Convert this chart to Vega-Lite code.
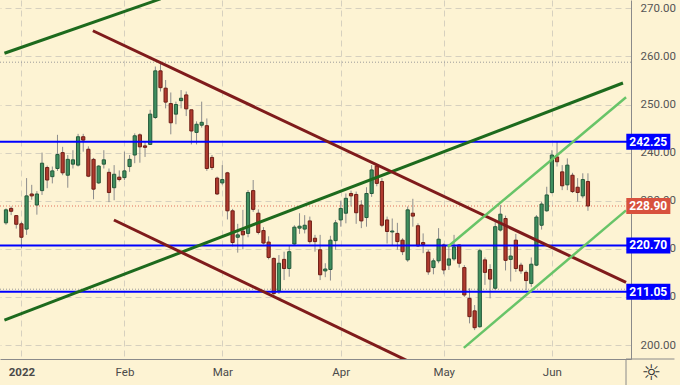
{
  "$schema": "https://vega.github.io/schema/vega-lite/v6.json",
  "width": 631,
  "height": 359,
  "autosize": "none",
  "padding": {"left": 0, "top": 0, "right": 49, "bottom": 26},
  "background": "#fdf3d3",
  "config": {"view": {"stroke": null}, "font": "Roboto"},
  "datasets": {
    "candles": [
      {"i":-3,"o":225.4,"h":228.4,"l":225.0,"c":228.1},
      {"i":-2,"o":228.4,"h":228.8,"l":227.0,"c":227.8},
      {"i":-1,"o":226.9,"h":227.0,"l":224.2,"c":225.1},
      {"i":0,"o":225.2,"h":225.6,"l":220.1,"c":222.4},
      {"i":1,"o":224.1,"h":234.7,"l":222.9,"c":231.0},
      {"i":2,"o":231.4,"h":233.3,"l":230.2,"c":231.0},
      {"i":3,"o":229.1,"h":232.0,"l":227.1,"c":231.4},
      {"i":4,"o":232.1,"h":240.0,"l":231.2,"c":237.8},
      {"i":5,"o":236.9,"h":237.3,"l":232.6,"c":234.3},
      {"i":6,"o":235.0,"h":237.1,"l":233.6,"c":236.2},
      {"i":7,"o":236.7,"h":243.7,"l":236.2,"c":239.6},
      {"i":8,"o":240.0,"h":241.2,"l":235.3,"c":235.8},
      {"i":9,"o":235.3,"h":239.5,"l":232.7,"c":238.6},
      {"i":10,"o":237.6,"h":240.5,"l":236.7,"c":238.5},
      {"i":11,"o":237.4,"h":243.9,"l":237.1,"c":243.3},
      {"i":12,"o":243.3,"h":243.9,"l":240.2,"c":242.6},
      {"i":13,"o":240.7,"h":241.3,"l":234.9,"c":235.1},
      {"i":14,"o":238.6,"h":238.9,"l":230.3,"c":232.4},
      {"i":15,"o":233.7,"h":237.4,"l":233.5,"c":237.2},
      {"i":16,"o":237.6,"h":240.5,"l":236.7,"c":238.5},
      {"i":17,"o":235.9,"h":236.7,"l":229.7,"c":231.7},
      {"i":18,"o":232.7,"h":237.4,"l":230.1,"c":235.5},
      {"i":19,"o":234.9,"h":236.3,"l":234.0,"c":234.4},
      {"i":20,"o":234.8,"h":240.2,"l":234.3,"c":236.2},
      {"i":21,"o":237.1,"h":239.5,"l":236.0,"c":238.6},
      {"i":22,"o":239.5,"h":244.0,"l":237.8,"c":243.5},
      {"i":23,"o":243.7,"h":244.0,"l":237.9,"c":241.2},
      {"i":24,"o":241.4,"h":242.3,"l":239.1,"c":241.1},
      {"i":25,"o":241.7,"h":248.9,"l":241.6,"c":248.0},
      {"i":26,"o":247.3,"h":257.9,"l":247.0,"c":257.0},
      {"i":27,"o":257.0,"h":258.6,"l":252.7,"c":253.5},
      {"i":28,"o":253.4,"h":255.1,"l":249.2,"c":250.5},
      {"i":29,"o":250.2,"h":252.5,"l":243.8,"c":246.2},
      {"i":30,"o":248.0,"h":250.6,"l":245.9,"c":250.0},
      {"i":31,"o":250.8,"h":253.0,"l":249.2,"c":251.3},
      {"i":32,"o":252.0,"h":252.7,"l":247.6,"c":249.1},
      {"i":33,"o":248.9,"h":248.9,"l":241.7,"c":244.5},
      {"i":34,"o":244.2,"h":246.5,"l":241.7,"c":245.9},
      {"i":35,"o":245.7,"h":250.6,"l":245.2,"c":246.3},
      {"i":36,"o":245.6,"h":247.1,"l":236.2,"c":236.7},
      {"i":37,"o":239.0,"h":239.5,"l":236.4,"c":236.9},
      {"i":38,"o":234.7,"h":235.0,"l":231.2,"c":231.4},
      {"i":39,"o":233.7,"h":237.4,"l":233.3,"c":234.4},
      {"i":40,"o":235.8,"h":236.0,"l":226.1,"c":227.9},
      {"i":41,"o":227.9,"h":228.3,"l":220.5,"c":221.3},
      {"i":42,"o":222.4,"h":225.2,"l":219.2,"c":222.9},
      {"i":43,"o":223.7,"h":228.1,"l":219.9,"c":222.9},
      {"i":44,"o":223.2,"h":232.2,"l":222.4,"c":231.7},
      {"i":45,"o":232.1,"h":234.3,"l":227.7,"c":228.2},
      {"i":46,"o":227.4,"h":228.2,"l":223.0,"c":223.4},
      {"i":47,"o":223.8,"h":224.5,"l":220.9,"c":221.2},
      {"i":48,"o":221.4,"h":222.6,"l":217.8,"c":218.2},
      {"i":49,"o":218.0,"h":218.2,"l":209.8,"c":210.7},
      {"i":50,"o":211.3,"h":218.7,"l":210.6,"c":217.0},
      {"i":51,"o":217.8,"h":219.4,"l":213.5,"c":215.9},
      {"i":52,"o":215.9,"h":220.6,"l":214.2,"c":219.4},
      {"i":53,"o":221.0,"h":224.9,"l":220.6,"c":224.5},
      {"i":54,"o":224.3,"h":227.4,"l":223.1,"c":224.7},
      {"i":55,"o":224.1,"h":227.0,"l":223.2,"c":224.9},
      {"i":56,"o":225.8,"h":226.7,"l":221.1,"c":221.5},
      {"i":57,"o":222.2,"h":222.9,"l":219.4,"c":221.5},
      {"i":58,"o":219.8,"h":222.9,"l":213.5,"c":214.6},
      {"i":59,"o":215.4,"h":217.0,"l":214.1,"c":215.8},
      {"i":60,"o":215.7,"h":222.7,"l":213.4,"c":221.8},
      {"i":61,"o":221.7,"h":226.0,"l":219.8,"c":225.4},
      {"i":62,"o":226.0,"h":230.0,"l":224.6,"c":228.4},
      {"i":63,"o":227.4,"h":231.5,"l":225.3,"c":230.5},
      {"i":64,"o":231.5,"h":232.1,"l":228.8,"c":231.0},
      {"i":65,"o":231.3,"h":231.9,"l":225.2,"c":227.5},
      {"i":66,"o":229.1,"h":230.1,"l":224.3,"c":225.8},
      {"i":67,"o":226.5,"h":232.8,"l":224.6,"c":231.5},
      {"i":68,"o":231.5,"h":237.4,"l":230.8,"c":236.4},
      {"i":69,"o":237.2,"h":237.5,"l":233.0,"c":233.6},
      {"i":70,"o":234.0,"h":234.7,"l":224.5,"c":224.9},
      {"i":71,"o":226.0,"h":226.7,"l":221.1,"c":223.6},
      {"i":72,"o":223.5,"h":226.3,"l":220.7,"c":223.7},
      {"i":73,"o":223.2,"h":225.4,"l":219.8,"c":221.5},
      {"i":74,"o":221.8,"h":222.2,"l":218.7,"c":219.4},
      {"i":75,"o":217.7,"h":228.8,"l":217.3,"c":228.1},
      {"i":76,"o":227.4,"h":230.4,"l":224.6,"c":226.8},
      {"i":77,"o":224.8,"h":225.3,"l":220.4,"c":220.6},
      {"i":78,"o":221.3,"h":223.2,"l":219.1,"c":220.9},
      {"i":79,"o":219.3,"h":219.8,"l":214.6,"c":215.2},
      {"i":80,"o":216.1,"h":218.0,"l":214.7,"c":217.5},
      {"i":81,"o":217.5,"h":224.3,"l":217.0,"c":222.0},
      {"i":82,"o":220.8,"h":221.1,"l":214.7,"c":215.6},
      {"i":83,"o":216.6,"h":220.4,"l":215.6,"c":217.9},
      {"i":84,"o":217.9,"h":222.9,"l":217.5,"c":220.4},
      {"i":85,"o":220.8,"h":220.9,"l":216.1,"c":217.0},
      {"i":86,"o":216.1,"h":216.6,"l":210.0,"c":210.4},
      {"i":87,"o":209.7,"h":211.8,"l":204.5,"c":205.9},
      {"i":88,"o":207.1,"h":208.3,"l":203.1,"c":203.6},
      {"i":89,"o":203.8,"h":220.0,"l":203.6,"c":219.6},
      {"i":90,"o":217.7,"h":218.2,"l":212.5,"c":215.1},
      {"i":91,"o":215.7,"h":216.8,"l":209.7,"c":213.7},
      {"i":92,"o":211.8,"h":226.0,"l":211.4,"c":224.6},
      {"i":93,"o":223.9,"h":229.1,"l":223.6,"c":227.2},
      {"i":94,"o":226.3,"h":226.9,"l":215.5,"c":217.6},
      {"i":95,"o":217.8,"h":220.4,"l":213.2,"c":218.5},
      {"i":96,"o":221.8,"h":223.1,"l":215.2,"c":215.9},
      {"i":97,"o":216.6,"h":217.1,"l":214.8,"c":215.4},
      {"i":98,"o":215.1,"h":215.5,"l":211.4,"c":213.4},
      {"i":99,"o":212.8,"h":218.2,"l":212.1,"c":216.8},
      {"i":100,"o":216.6,"h":227.0,"l":216.4,"c":226.6},
      {"i":101,"o":224.9,"h":229.8,"l":224.0,"c":229.3},
      {"i":102,"o":227.9,"h":232.9,"l":227.7,"c":231.2},
      {"i":103,"o":231.7,"h":240.5,"l":231.5,"c":239.5},
      {"i":104,"o":239.1,"h":242.3,"l":237.1,"c":238.1},
      {"i":105,"o":236.0,"h":237.4,"l":232.2,"c":233.1},
      {"i":106,"o":233.3,"h":238.8,"l":232.2,"c":237.4},
      {"i":107,"o":235.3,"h":235.8,"l":231.6,"c":231.9},
      {"i":108,"o":232.8,"h":234.7,"l":229.8,"c":231.7},
      {"i":109,"o":231.0,"h":235.7,"l":230.5,"c":234.4},
      {"i":110,"o":234.0,"h":235.7,"l":227.9,"c":228.9}
    ],
    "redLines": [
      {"seg":"r1","i":13.87,"v":265.34},
      {"seg":"r1","i":117.4,"v":213.0},
      {"seg":"r2","i":17.96,"v":225.99},
      {"seg":"r2","i":75.0,"v":196.7}
    ],
    "greenLines": [
      {"seg":"g1","i":-3.3,"v":260.66},
      {"seg":"g1","i":27.0,"v":271.95},
      {"seg":"g2","i":-3.3,"v":205.18},
      {"seg":"g2","i":116.8,"v":254.47}
    ],
    "lightLines": [
      {"seg":"l1","i":82.8,"v":220.44},
      {"seg":"l1","i":117.4,"v":251.5},
      {"seg":"l2","i":85.9,"v":199.4},
      {"seg":"l2","i":117.4,"v":228.0}
    ],
    "levels": [
      {"v":242.25,"label":"242.25","kind":"level"},
      {"v":220.70,"label":"220.70","kind":"level"},
      {"v":211.05,"label":"211.05","kind":"level"},
      {"v":228.90,"label":"228.90","kind":"last"}
    ],
    "dotted": [
      {"v":258.8,"kind":"gray"},
      {"v":211.6,"kind":"gray"},
      {"v":228.9,"kind":"last"}
    ]
  },
  "layer": [
    {
      "data": {"name": "candles"},
      "mark": {"type": "rule", "color": "#8c8c8c", "strokeWidth": 1},
      "encoding": {
        "x": {"field": "i", "type": "quantitative", "scale": {"domain": [-3.19, 117.39], "nice": false, "zero": false},
          "axis": {"orient": "bottom", "values": [0, 20, 39, 62, 82, 103],
            "labelExpr": "datum.value == 0 ? '2022' : datum.value == 20 ? 'Feb' : datum.value == 39 ? 'Mar' : datum.value == 62 ? 'Apr' : datum.value == 82 ? 'May' : 'Jun'",
            "title": null, "ticks": false, "labelPadding": 7, "labelFontSize": 11.5, "labelColor": "#4a4a4a",
            "labelFontWeight": {"condition": {"test": "datum.value == 0", "value": "bold"}, "value": "normal"},
            "domainColor": "#8a8a8a", "domainWidth": 1,
            "grid": true, "gridColor": "#d6d0bf", "gridDash": [6, 4], "gridWidth": 1}},
        "y": {"field": "l", "type": "quantitative", "scale": {"domain": [197.09, 271.73], "nice": false, "zero": false},
          "axis": {"orient": "right", "values": [200, 210, 220, 230, 240, 250, 260, 270], "format": ".2f",
            "title": null, "ticks": false, "labelPadding": 9, "labelFontSize": 11.5, "labelColor": "#555555",
            "domainColor": "#8a8a8a", "domainWidth": 1,
            "grid": true, "gridColor": "#d6d0bf", "gridDash": [6, 4], "gridWidth": 1}},
        "y2": {"field": "h"}
      }
    },
    {
      "data": {"name": "dotted"},
      "mark": {"type": "rule", "strokeWidth": 1, "strokeDash": [1, 2]},
      "encoding": {
        "y": {"field": "v", "type": "quantitative", "scale": {"domain": [197.09, 271.73], "nice": false, "zero": false}},
        "color": {"condition": {"test": "datum.kind == 'last'", "value": "#e0705c"}, "value": "#9a9a9a"}
      }
    },
    {
      "data": {"name": "candles"},
      "mark": {"type": "bar", "width": 3.2, "strokeWidth": 1, "clip": true},
      "encoding": {
        "x": {"field": "i", "type": "quantitative", "scale": {"domain": [-3.19, 117.39], "nice": false, "zero": false}},
        "y": {"field": "o", "type": "quantitative", "scale": {"domain": [197.09, 271.73], "nice": false, "zero": false}},
        "y2": {"field": "c"},
        "fill": {"condition": {"test": "datum.c >= datum.o", "value": "#3f8f5f"}, "value": "#b03a2e"},
        "stroke": {"condition": {"test": "datum.c >= datum.o", "value": "#24593a"}, "value": "#6e1e16"}
      }
    },
    {
      "data": {"name": "levels"},
      "transform": [{"filter": "datum.kind == 'level'"}],
      "mark": {"type": "rule", "color": "#0000ff", "strokeWidth": 2},
      "encoding": {
        "y": {"field": "v", "type": "quantitative", "scale": {"domain": [197.09, 271.73], "nice": false, "zero": false}}
      }
    },
    {
      "data": {"name": "greenLines"},
      "mark": {"type": "line", "color": "#1d6a1d", "strokeWidth": 3, "clip": true},
      "encoding": {
        "x": {"field": "i", "type": "quantitative", "scale": {"domain": [-3.19, 117.39], "nice": false, "zero": false}},
        "y": {"field": "v", "type": "quantitative", "scale": {"domain": [197.09, 271.73], "nice": false, "zero": false}},
        "detail": {"field": "seg"}
      }
    },
    {
      "data": {"name": "redLines"},
      "mark": {"type": "line", "color": "#7f1b1b", "strokeWidth": 3, "clip": true},
      "encoding": {
        "x": {"field": "i", "type": "quantitative", "scale": {"domain": [-3.19, 117.39], "nice": false, "zero": false}},
        "y": {"field": "v", "type": "quantitative", "scale": {"domain": [197.09, 271.73], "nice": false, "zero": false}},
        "detail": {"field": "seg"}
      }
    },
    {
      "data": {"name": "lightLines"},
      "mark": {"type": "line", "color": "#68c468", "strokeWidth": 2.5, "clip": true},
      "encoding": {
        "x": {"field": "i", "type": "quantitative", "scale": {"domain": [-3.19, 117.39], "nice": false, "zero": false}},
        "y": {"field": "v", "type": "quantitative", "scale": {"domain": [197.09, 271.73], "nice": false, "zero": false}},
        "detail": {"field": "seg"}
      }
    },
    {
      "data": {"name": "levels"},
      "mark": {"type": "rect", "yOffset": -8, "y2Offset": 8, "clip": false},
      "encoding": {
        "x": {"datum": 117.45, "type": "quantitative", "scale": {"domain": [-3.19, 117.39], "nice": false, "zero": false}},
        "x2": {"datum": 126.0},
        "y": {"field": "v", "type": "quantitative", "scale": {"domain": [197.09, 271.73], "nice": false, "zero": false}},
        "y2": {"field": "v"},
        "fill": {"condition": {"test": "datum.kind == 'last'", "value": "#d8513e"}, "value": "#0000ff"}
      }
    },
    {
      "data": {"name": "levels"},
      "mark": {"type": "text", "align": "center", "baseline": "middle", "fontSize": 12, "fontWeight": "bold", "color": "#ffffff", "clip": false},
      "encoding": {
        "x": {"datum": 121.7, "type": "quantitative", "scale": {"domain": [-3.19, 117.39], "nice": false, "zero": false}},
        "y": {"field": "v", "type": "quantitative", "scale": {"domain": [197.09, 271.73], "nice": false, "zero": false}},
        "text": {"field": "label"}
      }
    },
    {
      "data": {"values": [{"part": "separator"}]},
      "mark": {"type": "rule", "color": "#8a8a8a", "strokeWidth": 1, "clip": false},
      "encoding": {
        "x": {"datum": 117.39, "type": "quantitative", "scale": {"domain": [-3.19, 117.39], "nice": false, "zero": false}},
        "y": {"datum": 197.09, "type": "quantitative", "scale": {"domain": [197.09, 271.73], "nice": false, "zero": false}},
        "y2": {"datum": 191.6}
      }
    },
    {
      "data": {"values": [{"part": "separator"}]},
      "mark": {"type": "rule", "color": "#8a8a8a", "strokeWidth": 1, "clip": false},
      "encoding": {
        "x": {"datum": 117.39, "type": "quantitative", "scale": {"domain": [-3.19, 117.39], "nice": false, "zero": false}},
        "x2": {"datum": 126.8},
        "y": {"datum": 197.09, "type": "quantitative", "scale": {"domain": [197.09, 271.73], "nice": false, "zero": false}}
      }
    },
    {
      "data": {"values": [{"icon": "☼"}]},
      "mark": {"type": "text", "align": "center", "baseline": "middle", "fontSize": 22, "color": "#333333", "font": "DejaVu Sans", "clip": false},
      "encoding": {
        "x": {"datum": 122.3, "type": "quantitative", "scale": {"domain": [-3.19, 117.39], "nice": false, "zero": false}},
        "y": {"datum": 194.24, "type": "quantitative", "scale": {"domain": [197.09, 271.73], "nice": false, "zero": false}},
        "text": {"field": "icon"}
      }
    }
  ]
}
